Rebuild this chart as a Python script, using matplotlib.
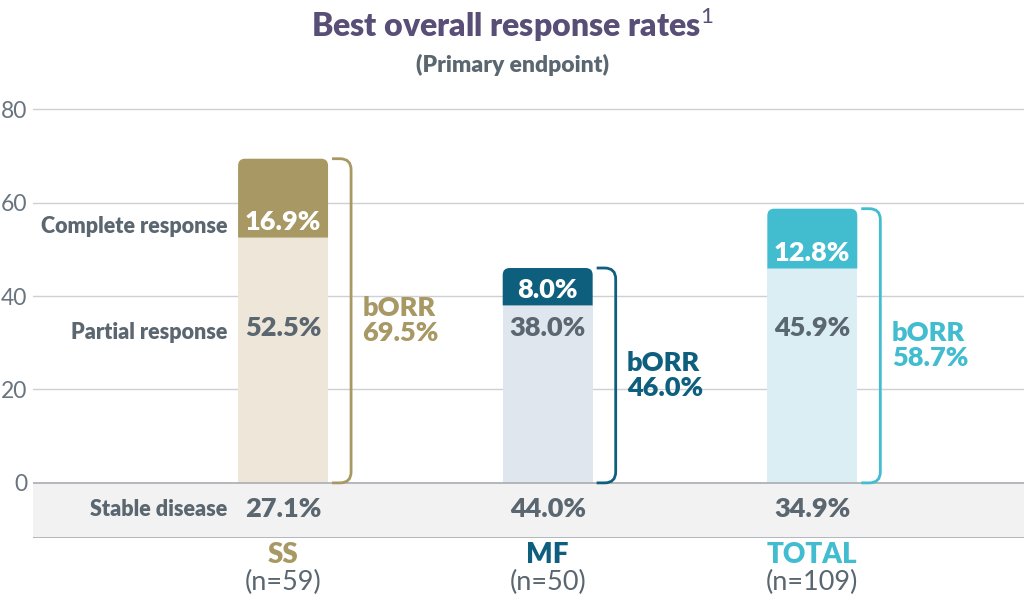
import numpy as np
import matplotlib.pyplot as plt
from matplotlib.path import Path
from matplotlib.patches import PathPatch
import matplotlib.transforms as mtransforms

groups = ['SS', 'MF', 'TOTAL']
n_pts = [59, 50, 109]
partial = [52.5, 38.0, 45.9]
complete = [16.9, 8.0, 12.8]
stable = [27.1, 44.0, 34.9]
borr = [69.5, 46.0, 58.7]

dark = ['#A89863', '#0E5F7E', '#42BCCF']
light = ['#EDE6D9', '#E0E6ED', '#DAEEF3']
gray = '#5A6670'
BOLD = 'heavy'

plt.rcParams['font.family'] = ['Lato', 'DejaVu Sans']
plt.rcParams['mathtext.fontset'] = 'custom'
plt.rcParams['mathtext.rm'] = 'Lato'
plt.rcParams['mathtext.bf'] = 'Lato:bold'

fig = plt.figure(figsize=(10.24, 6.06), dpi=100)
ax = fig.add_axes([33 / 1024, 1 - 538 / 606, 1 - 33 / 1024, (538 - 105) / 606])

ymin, ymax = -11.8, 80.9
xmin, xmax = -0.945, 2.80
ax.set_xlim(xmin, xmax)
ax.set_ylim(ymin, ymax)

# px -> data unit conversions
px_x = (xmax - xmin) / (1024 - 33)
px_y = (ymax - ymin) / (538 - 105)


def rounded_top(x0, x1, y0, y1, r):
    rx, ry = r * px_x, r * px_y
    verts = [(x0, y0), (x0, y1 - ry), (x0, y1), (x0 + rx, y1),
             (x1 - rx, y1), (x1, y1), (x1, y1 - ry), (x1, y0), (x0, y0)]
    codes = [Path.MOVETO, Path.LINETO, Path.CURVE3, Path.CURVE3,
             Path.LINETO, Path.CURVE3, Path.CURVE3, Path.LINETO, Path.CLOSEPOLY]
    return Path(verts, codes)


def bracket(x0, x1, y0, y1, r):
    rx, ry = r * px_x, r * px_y
    verts = [(x0, y1), (x1 - rx, y1), (x1, y1), (x1, y1 - ry),
             (x1, y0 + ry), (x1, y0), (x1 - rx, y0), (x0, y0)]
    codes = [Path.MOVETO, Path.LINETO, Path.CURVE3, Path.CURVE3,
             Path.LINETO, Path.CURVE3, Path.CURVE3, Path.LINETO]
    return Path(verts, codes)


# grid and stable disease band
ax.axhspan(ymin, 0, color='#F2F2F2', zorder=0)
for v in [20, 40, 60, 80]:
    ax.axhline(v, color='#CDD1D6', lw=1, zorder=1)
ax.axhline(0, color='#A8ADB2', lw=1.2, zorder=3)
ax.axhline(ymin + 0.1, color='#A8ADB2', lw=1.2, zorder=3)

x = np.arange(len(groups))
w = 0.34
ax.bar(x, partial, w, color=light, zorder=2)

for i in range(len(groups)):
    top = partial[i] + complete[i]
    ax.add_patch(PathPatch(rounded_top(x[i] - w / 2, x[i] + w / 2, partial[i], top, 7),
                           facecolor=dark[i], edgecolor='none', zorder=2))
    ax.add_patch(PathPatch(bracket(x[i] + 0.185, x[i] + 0.257, 0, top, 11),
                           facecolor='none', edgecolor=dark[i], lw=2, zorder=3,
                           capstyle='butt'))
    cy = partial[i] + min(complete[i] / 2, 3.3)
    ax.text(x[i], cy, '%.1f%%' % complete[i], color='white', fontsize=19.5,
            fontweight=BOLD, ha='center', va='center', zorder=4)
    ax.text(x[i], 33.2, '%.1f%%' % partial[i], color=gray, fontsize=19.5,
            fontweight=BOLD, ha='center', va='center', zorder=4)
    ax.text(x[i], -5.6, '%.1f%%' % stable[i], color=gray, fontsize=19.5,
            fontweight=BOLD, ha='center', va='center', zorder=4)
    ax.text(x[i] + 0.3, borr[i] / 2, 'bORR\n%.1f%%' % borr[i], color=dark[i],
            fontsize=19.5, fontweight=BOLD, ha='left', va='center',
            linespacing=1.05, zorder=4)

# row labels
lx = -0.21
ax.text(lx, 54.8, 'Complete response', color=gray, fontsize=15.5,
        fontweight=BOLD, ha='right', va='center')
ax.text(lx, 32.3, 'Partial response', color=gray, fontsize=15.5,
        fontweight=BOLD, ha='right', va='center')
ax.text(lx, -5.6, 'Stable disease', color=gray, fontsize=15.5,
        fontweight=BOLD, ha='right', va='center')

# category labels
trans = mtransforms.blended_transform_factory(ax.transData, fig.transFigure)
for i, g in enumerate(groups):
    ax.text(x[i], 1 - 555 / 606, g, color=dark[i], fontsize=20,
            fontweight=BOLD, ha='center', va='center', transform=trans)
    ax.text(x[i], 1 - 582 / 606, '(n=%d)' % n_pts[i], color=gray, fontsize=19.5,
            ha='center', va='center', transform=trans)

ax.set_yticks([0, 20, 40, 60, 80])
ax.set_xticks([])
ax.tick_params(axis='y', length=0, pad=4, labelsize=16.5, labelcolor='#69747E')
for s in ax.spines.values():
    s.set_visible(False)

fig.text(0.5, 1 - 25 / 606, r'Best overall response rates$^{1}$', color='#584E76',
         fontsize=23, fontweight=BOLD, ha='center', va='center')
fig.text(0.5, 1 - 65 / 606, '(Primary endpoint)', color=gray, fontsize=16.5,
         fontweight=BOLD, ha='center', va='center')

fig.savefig('out.png', dpi=100)
